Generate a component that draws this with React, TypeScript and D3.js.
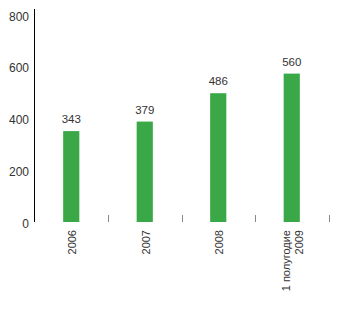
import React from "react";
import * as d3 from "d3";

const categories = ["2006", "2007", "2008", "1 полугодие\n2009"];
const values = [343, 379, 486, 560];
const yTicks = [0, 200, 400, 600, 800];

export default function App() {
  const width = 341;
  const height = 310;
  const x = d3.scaleBand<string>().domain(categories).range([34.5, 328.5]).paddingInner(0.78).paddingOuter(0.39);
  const xb = d3.scaleBand<string>().domain(categories).range([34.5, 328.5]);
  const y = d3.scaleLinear().domain([0, 800]).range([222, 10]);
  const font = "'Liberation Sans', Arial, sans-serif";
  return (
    <svg width={width} height={height} style={{ position: "absolute", left: 0, top: 0 }} fontFamily={font}>
      <rect width={width} height={height} fill="#fff" />
      <line x1={34.5} x2={34.5} y1={9} y2={222} stroke="#000" strokeWidth={1} />
      {yTicks.map((t) => (
        <text key={t} x={29} y={y(t) + 5.5 + t * 0.00625} textAnchor="end" fontSize={12} fill="#333">
          {t}
        </text>
      ))}
      {categories.map((c, i) => {
        const xx = Math.round((xb(c) as number) + xb.bandwidth()) + 0.5;
        return <line key={i} x1={xx} x2={xx} y1={215} y2={222} stroke="#888" strokeWidth={1} />;
      })}
      {categories.map((c, i) => {
        const bx = x(c) as number;
        const cx = bx + x.bandwidth() / 2;
        const lines = c.split("\n");
        return (
          <g key={c}>
            <rect x={bx} y={y(values[i])} width={x.bandwidth()} height={y(0) - y(values[i])} fill="#3aa846" />
            <text x={cx} y={y(values[i]) - 8} textAnchor="middle" fontSize={11.5} fill="#333">
              {values[i]}
            </text>
            {lines.map((ln, j) => {
              const n = lines.length;
              const lx = cx + 1 + (j - (n - 1) / 2) * 13 + 4;
              return (
                <text key={j} transform={`translate(${lx},230) rotate(-90)`} textAnchor="end" fontSize={11} fill="#333">
                  {ln}
                </text>
              );
            })}
          </g>
        );
      })}
    </svg>
  );
}
